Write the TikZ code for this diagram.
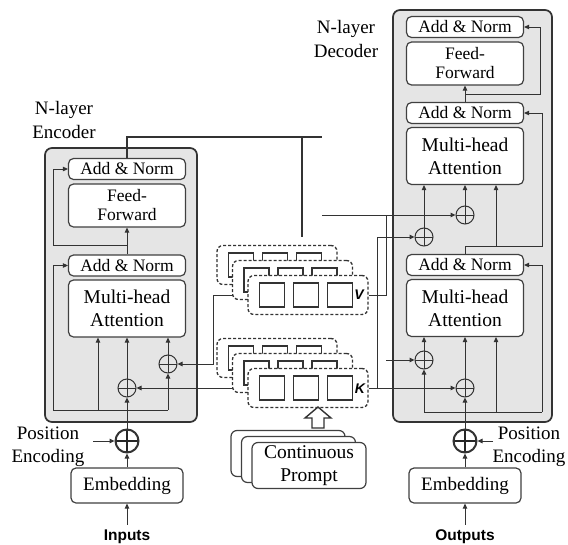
\documentclass[tikz,border=0pt]{standalone}
\usepackage{fontspec}
\setmainfont{Liberation Serif}
\setsansfont{Liberation Sans}
\usetikzlibrary{arrows.meta, calc, backgrounds}

\begin{document}
\begin{tikzpicture}[x=1pt, y=-1pt,
  line/.style={draw=black!80, line width=1pt},
  arr/.style={line, -{Triangle[length=5pt, width=4.5pt]}},
  outer/.style={draw=black!80, line width=1.7pt, fill=black!10, rounded corners=7pt, inner sep=0pt},
  block/.style={draw=black!75, line width=1.2pt, rounded corners=5pt, fill=white, inner sep=0pt, align=center, minimum width=117pt},
  addnorm/.style={block, minimum height=21pt, font=\fontsize{17.5}{19}\selectfont},
  ffbox/.style={block, minimum height=43pt, font=\fontsize{17.5}{19}\selectfont},
  mhabox/.style={block, minimum height=57pt, font=\fontsize{19.5}{23}\selectfont},
  embbox/.style={block, minimum width=112pt, minimum height=35pt, font=\fontsize{19}{23}\selectfont},
  prompt/.style={block, minimum width=114pt, minimum height=46pt, rounded corners=6pt, font=\fontsize{19.5}{23}\selectfont},
  kvbox/.style={draw=black!80, densely dashed, line width=1.3pt, rounded corners=6pt, fill=white, minimum width=120pt, minimum height=39pt},
  cell/.style={draw=black!80, line width=1.3pt, fill=white, minimum width=25pt, minimum height=24pt, inner sep=0pt},
  kvtext/.style={font=\fontsize{14}{14}\sffamily\bfseries\itshape},
  oplus/.style={circle, draw=black!80, line width=1pt, minimum size=18pt, inner sep=0pt,
    path picture={\draw[black!80, line width=1pt] (path picture bounding box.north) -- (path picture bounding box.south)
      (path picture bounding box.west) -- (path picture bounding box.east);}},
  bigplus/.style={oplus, line width=2pt, minimum size=23pt,
    path picture={\draw[black!85, line width=2pt] (path picture bounding box.north) -- (path picture bounding box.south)
      (path picture bounding box.west) -- (path picture bounding box.east);}},
  title/.style={align=center, font=\fontsize{19}{24}\selectfont},
  pelabel/.style={align=center, font=\fontsize{19}{23}\selectfont},
  iotext/.style={inner sep=2pt, font=\fontsize{15.5}{16}\sffamily\bfseries}]

\useasboundingbox (0,0) rectangle (568,544);

% encoder
\node[title] (etitle) at (64,120) {N-layer\\Encoder};
\node[addnorm] (ean1) at (127,169) {Add \& Norm};
\node[ffbox] (eff) at (127,205.5) {Feed-\\Forward};
\node[addnorm] (ean2) at (127,265.5) {Add \& Norm};
\node[mhabox] (emha) at (127,308.5) {Multi-head\\Attention};
\node[oplus] (ev) at (168,364) {};
\node[oplus] (eq) at (127,388) {};
\node[bigplus] (epos) at (127,441) {};
\node[pelabel] (eptxt) at (48,447) {Position\\Encoding};
\node[embbox] (eemb) at (127,485.5) {Embedding};
\node[iotext] (ein) at (127,537) {Inputs};

% decoder
\node[title] (dtitle) at (346,39) {N-layer\\Decoder};
\node[addnorm] (dan1) at (465,27) {Add \& Norm};
\node[ffbox] (dff) at (465,63.5) {Feed-\\Forward};
\node[addnorm] (dan2) at (465,113) {Add \& Norm};
\node[mhabox] (dmha2) at (465,156) {Multi-head\\Attention};
\node[oplus] (dv) at (465,215) {};
\node[oplus] (dk2) at (424,237) {};
\node[addnorm] (dan3) at (465,265) {Add \& Norm};
\node[mhabox] (dmha1) at (465,308) {Multi-head\\Attention};
\node[oplus] (dq) at (424,360) {};
\node[oplus] (dk) at (465,388) {};
\node[bigplus] (dpos) at (465,441) {};
\node[pelabel] (dptxt) at (529,447) {Position\\Encoding};
\node[embbox] (demb) at (465,485.5) {Embedding};
\node[iotext] (dout) at (465,537) {Outputs};

% prompt key / value stacks
\foreach \s/\y in {k/388, v/295}{
  \foreach \i in {2,1,0}{
    \node[kvbox] (\s\i) at (308-15.5*\i, \y-15*\i) {};
    \foreach \dx in {-36,-2,32}
      \node[cell] at ($(\s\i)+(\dx,0)$) {};
  }
}
\node[kvtext] (klab) at ($(k0)+(52,1)$) {K};
\node[kvtext] (vlab) at ($(v0)+(51,0)$) {V};

% continuous prompt
\node[prompt] (p2) at (288,453.5) {};
\node[prompt] (p1) at (298.5,459.5) {};
\node[prompt] (p0) at (309,465.5) {Continuous\\Prompt};
\draw[draw=black!80, line width=1.4pt, fill=white] (312,428) -- (324,428) -- (324,418) -- (331,418)
  -- (318,407) -- (305,418) -- (312,418) -- cycle;

\coordinate (ebusl) at (53,410);
\coordinate (ebusm) at (98,410);
\coordinate (ebusr) at (168,410);
\coordinate (eres) at (53,245);
\coordinate (eout) at (322,137);
\coordinate (etap) at (302,137);
\coordinate (etapend) at (302,237);
\coordinate (epin) at (93,441);
\coordinate (vleft) at (213,295);
\coordinate (vright) at (386,295);
\coordinate (vstub) at (322,215);
\coordinate (kright) at (377,388);
\coordinate (qstub) at (386,360);
\coordinate (dbusl) at (424,412);
\coordinate (dbusm) at (496,412);
\coordinate (dbusr) at (542,412);
\coordinate (dres) at (542,246);
\coordinate (dkv) at (496,246);
\coordinate (dres2) at (540,94);
\coordinate (dpin) at (493,441);

\begin{pgfonlayer}{background}
\node[outer, minimum width=152pt, minimum height=274pt] (enc) at (121,285) {};
\node[outer, minimum width=159pt, minimum height=412pt] (dec) at (472.5,216) {};

% encoder lines
\draw[arr, shorten <=3pt] (ein) -- (eemb);
\draw[arr] (eemb) -- (epos);
\draw[arr] (epin) -- (epos);
\draw[arr] (epos) -- (eq);
\draw[arr] (eq) -- (eq |- emha.south);
\draw[line] (ebusl) -- (ebusr);
\draw[arr] (ebusl) |- (ean2.west);
\draw[arr] (ebusm) -- (ebusm |- emha.south);
\draw[arr] (ebusr) -- (ev);
\draw[arr] (ev) -- (ev |- emha.south);
\draw[arr] (ean2) -- (eff);
\draw[arr] (ean2.north |- eres) -- (eres) |- (ean1.west);
\draw[line, line width=1.3pt] (ean1.north) |- (eout);
\draw[line, line width=1.3pt] (etap) -- (etapend);

% prompt to encoder
\draw[arr] (v0.west) -- (vleft) |- (ev.east);
\draw[arr] (k0.west) -- (eq.east);

% prompt to decoder
\draw[arr] (v0.east) -- (vright) |- (dv.west);
\draw[line] (vstub) -- (vright |- vstub);
\draw[arr] (k0.east) -- (dk.west);
\draw[arr] (kright) |- (dk2.west);
\draw[arr] (qstub) -- (dq.west);

% decoder lines
\draw[arr, shorten <=3pt] (dout) -- (demb);
\draw[arr] (demb) -- (dpos);
\draw[arr] (dpin) -- (dpos);
\draw[arr] (dpos) -- (dk);
\draw[arr] (dk) -- (dk |- dmha1.south);
\draw[line] (dbusl) -- (dbusr);
\draw[arr] (dbusl) -- (dq);
\draw[arr] (dq) -- (dq |- dmha1.south);
\draw[arr] (dbusm) -- (dbusm |- dmha1.south);
\draw[arr] (dbusr) |- (dan3.east);
\draw[arr] (dan3.north) |- (dres) |- (dan2.east);
\draw[arr] (dkv) -- (dkv |- dmha2.south);
\draw[arr] (dk2) -- (dk2 |- dmha2.south);
\draw[arr] (dv) -- (dv |- dmha2.south);
\draw[arr] (dan2) -- (dff);
\draw[arr] (dan2.north |- dres2) -- (dres2) |- (dan1.east);
\end{pgfonlayer}
\end{tikzpicture}
\end{document}
